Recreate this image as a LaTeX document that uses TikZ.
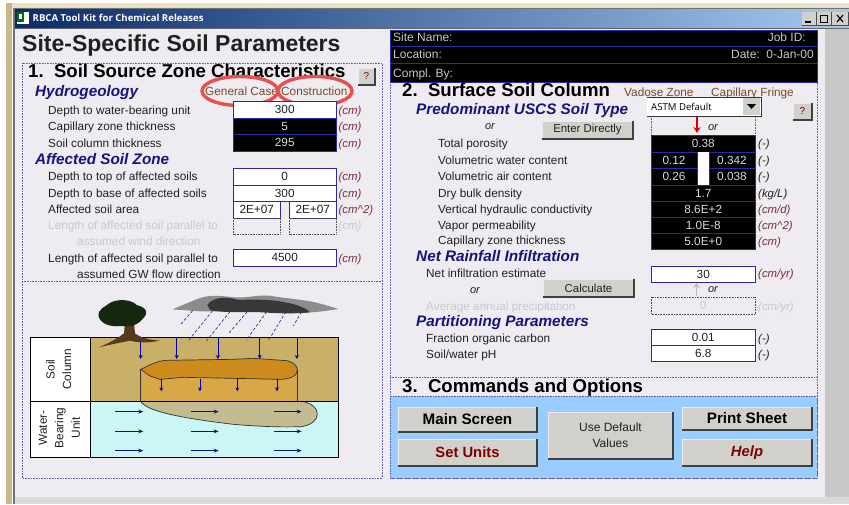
\documentclass[tikz,border=0pt]{standalone}
\usepackage{fontspec}
\setmainfont{Liberation Sans}
\newfontfamily\tbfont{Open Sans}
\definecolor{winbg}{HTML}{EEECF0}
\definecolor{navy}{HTML}{14147E}
\definecolor{fieldblue}{HTML}{2A2AA8}
\definecolor{unitred}{HTML}{7E2A3A}
\definecolor{greyed}{HTML}{C9C8CC}
\definecolor{txt}{HTML}{202020}
\definecolor{brn}{HTML}{7A4A2A}
\definecolor{btn}{HTML}{D2D0CB}
\definecolor{dotc}{HTML}{6060B0}
\definecolor{panel}{HTML}{99CCFF}
\definecolor{soilc}{HTML}{C8B068}
\definecolor{waterc}{HTML}{CCF5F5}
\definecolor{colc}{HTML}{D8A848}
\definecolor{lensc}{HTML}{CC8C1C}
\definecolor{plumec}{HTML}{C2BC90}
\definecolor{barl}{HTML}{0A2A6A}
\definecolor{barr}{HTML}{A6C8EE}
\definecolor{creamtop}{HTML}{EAE2C4}
\definecolor{creamleft}{HTML}{C8B888}
\definecolor{ringc}{HTML}{E85050}
\definecolor{treec}{HTML}{16280E}
\newcommand{\fs}[1]{\fontsize{#1}{#1}\selectfont}
\tikzset{
  lbl/.style={anchor=base west,yshift=-4pt,inner sep=0pt,text=txt,font=\fs{11.8}},
  glbl/.style={lbl,text=greyed},
  hd/.style={anchor=base west,yshift=-5.5pt,inner sep=0pt,text=navy,font=\fs{15.3}\bfseries\itshape},
  sect/.style={anchor=base west,yshift=-6.5pt,inner sep=0pt,text=black,font=\fs{18.6}\bfseries},
  unit/.style={anchor=base west,yshift=-4pt,inner sep=0pt,text=unitred,font=\fs{11.4}\itshape},
  gunit/.style={unit,text=greyed},
  dunit/.style={unit,text=txt},
  orw/.style={anchor=base,yshift=-3pt,inner sep=0pt,text=txt,font=\fs{11}\itshape},
  zone/.style={anchor=base west,yshift=-4pt,inner sep=0pt,text=brn,font=\fs{11.8}},
  white field/.style={draw=fieldblue,line width=.9pt,fill=white},
  black field/.style={draw=fieldblue,line width=.9pt,fill=black},
  dis field/.style={draw=black!70,densely dotted,line width=.6pt},
  val/.style={inner sep=0pt,text=txt,font=\fs{11.8},text height=8.4pt,text depth=0pt},
  wval/.style={val,text=white!85!black},
  gval/.style={val,text=greyed},
  dotbox/.style={draw=dotc,densely dotted,line width=.6pt},
  hdr/.style={anchor=base west,yshift=-4pt,inner sep=0pt,text=white!78!black,font=\fs{12}},
  soilarrow/.style={-{Stealth[length=4pt,width=4pt]},draw=blue!70!black,line width=.7pt},
  waterarrow/.style={-{Stealth[length=5pt,width=4pt]},draw=navy!90!black,line width=.8pt},
  rain/.style={draw=blue!55!black!80,densely dashed,line width=.7pt},
  ring/.style={draw=ringc,line width=3.4pt},
  diaglbl/.style={inner sep=0pt,text=txt,font=\fs{11.8}}
}
\newcommand{\pbtn}[7]{%
  \fill[btn] (#2,#3) rectangle (#4,#5);
  \draw[white!60!btn,line width=.8pt] (#2,#5) -- (#2,#3) -- (#4,#3);
  \draw[black!75,line width=1.2pt] (#2,#5) -- (#4,#5) -- (#4,#3);
  \node[inner sep=0pt,align=center,#7] (#1) at ({(#2+#4)/2},{(#3+#5)/2}) {#6};
}
\usetikzlibrary{arrows.meta}
\begin{document}
\begin{tikzpicture}[x=1pt,y=-1pt]
\useasboundingbox (0,0) rectangle (849,504);
\fill[white] (0,0) rectangle (849,504);
% window frame
\fill[winbg] (14,28) rectangle (825,497);
\fill[black!22] (825,28) rectangle (849,498);
\fill[black!15] (14,497) rectangle (849,504);
\fill[creamtop] (7,3) rectangle (849,8);
\draw[black!55,line width=1pt] (14,8.5) -- (849,8.5);
\fill[creamleft] (6,3) rectangle (12,504);
\fill[black!55] (12.5,8) rectangle (15,504);
% title bar
\shade[left color=barl,right color=barr] (15,9) rectangle (849,27.5);
\draw[black!60,line width=.8pt] (15,28) -- (849,28);
\fill[white] (17,11.5) rectangle (29,24);
\fill[green!45!black] (17,11.5) rectangle (24,22);
\fill[white] (19,14) rectangle (22,19);
\node[anchor=west,inner sep=0pt,text=white,font=\fs{9.6}\tbfont\bfseries] (wintitle) at (32.5,18) {RBCA Tool Kit for Chemical Releases};
% window buttons
\foreach \xa/\xb in {802/816,817/831,832/848}{\fill[btn] (\xa,12) rectangle (\xb,25);\draw[black!70] (\xa,25) -- (\xb,25) -- (\xb,12);}
\draw[black,line width=1.2pt] (805,22) -- (811,22);
\draw[black,line width=1pt] (820.5,15) rectangle (827.5,22);
\draw[black,line width=1.2pt] (837,15) -- (843,22) (843,15) -- (837,22);
% title
\node[anchor=west,inner sep=0pt,text=txt,font=\fs{23}\bfseries] (maintitle) at (22,46) {Site-Specific Soil Parameters};
% dotted section boxes
\draw[dotbox] (22,63) rectangle (382,478);
\draw[dotbox] (22,281.5) -- (382,281.5);
\draw[dotbox] (390,82) rectangle (817,478);
\draw[dotbox] (390,377) -- (817,377);
% header block
\fill[black] (390,30) rectangle (817,82);
\draw[fieldblue,line width=.8pt] (390,30) rectangle (817,82);
\draw[fieldblue,line width=.8pt] (390,46.5) -- (817,46.5) (390,63) -- (817,63);
\node[hdr] (site) at (393,37) {Site Name:};
\node[hdr] (loc) at (393,54) {Location:};
\node[hdr] (compl) at (393,73) {Compl. By:};
\node[hdr,anchor=base east] (job) at (806,37) {Job ID:};
\node[hdr,anchor=base east] (date) at (814,54) {Date:\ \ 0-Jan-00};
% section 1
\node[sect] (s1) at (28,71) {1.\ \ Soil Source Zone Characteristics};
\pbtn{qa}{358}{68}{375}{85}{?}{text=red!50!black,font=\fs{10}}
\node[hd] (hydro) at (35,91) {Hydrogeology};
\node[zone] (gc) at (205,91.5) {General Case};
\node[zone] (con) at (281,91.5) {Construction};
\draw[ring] (240,91) ellipse (38 and 14.5);
\draw[ring] (315,91) ellipse (37 and 14.5);
\node[lbl] (l1) at (48,110) {Depth to water-bearing unit};
\node[lbl] (l2) at (48,126.5) {Capillary zone thickness};
\node[lbl] (l3) at (48,143) {Soil column thickness};
\node[hd] (aff) at (35,159) {Affected Soil Zone};
\node[lbl] (l4) at (48,176.5) {Depth to top of affected soils};
\node[lbl] (l5) at (48,193) {Depth to base of affected soils};
\node[lbl] (l6) at (48,209.5) {Affected soil area};
\node[glbl] (l7) at (48,225.5) {Length of affected soil parallel to};
\node[glbl] (l8) at (77,241.5) {assumed wind direction};
\node[lbl] (l9) at (48,258) {Length of affected soil parallel to};
\node[lbl] (l10) at (77,274) {assumed GW flow direction};
\draw[white field] (233.5,101) rectangle node[val] (f1) {300} (336,118);
\draw[black field] (233.5,118) rectangle node[wval] (f2) {5} (336,134.5);
\draw[black field] (233.5,134.5) rectangle node[wval] (f3) {295} (336,151);
\draw[white field] (233.5,168) rectangle node[val] (f4) {0} (336,185);
\draw[white field] (233.5,185) rectangle node[val] (f5) {300} (336,201.5);
\draw[white field] (233.5,201.5) rectangle node[val] (f6) {2E+07} (280,218);
\draw[white field] (289.5,201.5) rectangle node[val] (f7) {2E+07} (336,218);
\draw[dis field] (233.5,218) rectangle (280,234);
\draw[dis field] (289.5,218) rectangle (336,234);
\draw[white field] (233.5,249) rectangle node[val] (f8) {4500} (336,266);
\foreach \n/\y in {u1/110,u2/126.5,u3/143,u4/176.5,u5/193,u9/258}{\node[unit] (\n) at (338.5,\y) {(cm)};}
\node[unit] (u6) at (338.5,209.5) {(cm\^{}2)};
\node[gunit] (u7) at (338.5,225.5) {(cm)};
% diagram
\begin{scope}[shift={(0,270)},x=.3333pt,y=-.3333pt]
  \fill[white] (92,203) rectangle (272,562);
  \fill[soilc] (272,203) rectangle (1016,394);
  \fill[waterc] (272,394) rectangle (1016,562);
  \fill[colc] (422,298) rectangle (892,394);
  \draw[black!80,line width=.7pt] (422,298) -- (422,394) (892,298) -- (892,394);
  \fill[lensc] (422,298) .. controls (445,288) and (470,272) .. (500,271) -- (700,268) -- (760,265) -- (860,272) .. controls (885,278) and (892,290) .. (892,300) .. controls (892,318) and (870,328) .. (840,328) -- (700,325) -- (550,322) -- (480,328) -- (450,318) -- cycle;
  \draw[black!80,line width=.7pt] (422,298) .. controls (445,288) and (470,272) .. (500,271) -- (700,268) -- (760,265) -- (860,272) .. controls (885,278) and (892,290) .. (892,300) .. controls (892,318) and (870,328) .. (840,328) -- (700,325) -- (550,322) -- (480,328) -- (450,318) -- cycle;
  \fill[plumec] (422,394) .. controls (440,425) and (550,445) .. (700,463) .. controls (780,470) and (850,472) .. (905,470) .. controls (935,465) and (952,450) .. (952,432) .. controls (952,412) and (935,400) .. (905,394) -- cycle;
  \draw[black!80,line width=.7pt] (422,394) .. controls (440,425) and (550,445) .. (700,463) .. controls (780,470) and (850,472) .. (905,470) .. controls (935,465) and (952,450) .. (952,432) .. controls (952,412) and (935,400) .. (905,394);
  \draw[black,line width=.8pt] (92,203) rectangle (1016,562);
  \draw[black,line width=.8pt] (92,394) -- (1016,394) (272,203) -- (272,562);
  \foreach \x in {422,530,654,779,891}{\draw[soilarrow] (\x,204) -- (\x,267);}
  \foreach \x in {484,600,712,831}{\draw[soilarrow] (\x,326) -- (\x,364);}
  \foreach \y in {425,484,542}{
    \draw[waterarrow] (345,\y) -- (430,\y);
    \draw[waterarrow] (572,\y) -- (656,\y);
    \draw[waterarrow] (822,\y) -- (905,\y);
  }
  % tree
  \fill[brown!45!black] (375,160) -- (372,190) .. controls (350,208) and (320,222) .. (296,232) .. controls (330,224) and (360,218) .. (390,212) .. controls (420,220) and (450,218) .. (480,212) .. controls (450,210) and (425,205) .. (405,190) -- (402,160) -- cycle;
  \fill[treec] (296,140) .. controls (292,115) and (318,110) .. (328,100) .. controls (350,85) and (395,88) .. (410,105) .. controls (435,112) and (452,125) .. (425,150) .. controls (405,172) and (380,170) .. (360,168) .. controls (335,172) and (302,162) .. (296,140) -- cycle;
  % cloud
  \fill[black!45] (518,118) .. controls (540,108) and (560,100) .. (590,88) .. controls (620,75) and (650,75) .. (700,82) .. controls (740,85) and (770,74) .. (810,77) .. controls (850,85) and (900,87) .. (950,98) .. controls (980,106) and (1000,112) .. (1016,117) .. controls (980,122) and (950,128) .. (900,128) -- (700,124) -- (600,124) -- cycle;
  \fill[black!78] (622,105) .. controls (635,82) and (680,78) .. (715,90) .. controls (760,88) and (820,88) .. (860,98) .. controls (890,103) and (920,115) .. (930,127) .. controls (880,132) and (830,130) .. (770,126) .. controls (720,126) and (660,128) .. (630,120) -- cycle;
  \draw[rain] (578,122) -- (543,162);
  \draw[rain] (638,122) -- (565,212);
  \draw[rain] (690,125) -- (620,212);
  \draw[rain] (742,125) -- (688,188);
  \draw[rain] (800,125) -- (738,212);
  \draw[rain] (858,125) -- (805,212);
  \draw[rain] (905,125) -- (880,168);
  \node[diaglbl] (soilcol) at (176,298) {\rotatebox{90}{\parbox{56pt}{\centering\fontsize{11.8}{16.5}\selectfont Soil\\Column}}};
  \node[diaglbl] (wbu) at (178,474) {\rotatebox{90}{\parbox{56pt}{\centering\fontsize{11.8}{16.5}\selectfont Water-\\Bearing\\Unit}}};
\end{scope}
% section 2
\node[sect] (s2) at (402,89.5) {2.\ \ Surface Soil Column};
\node[zone] (vz) at (624,92) {Vadose Zone};
\node[zone] (cf) at (711,92) {Capillary Fringe};
\node[hd] (uscs) at (416,108.5) {Predominant USCS Soil Type};
\draw[dotbox] (651,116) rectangle (755.5,135);
\fill[white] (647,97) rectangle (761,116);
\draw[black!80,line width=1pt] (647,116) -- (761,116) -- (761,97) -- (647,97);
\fill[btn] (743,98) rectangle (760,115);
\fill[black] (747,104) -- (756,104) -- (751.5,109) -- cycle;
\node[anchor=west,inner sep=0pt,text=black,font=\fs{9.6}\tbfont] (astm) at (651,107) {ASTM Default};
\pbtn{qb}{793}{103}{812}{120}{?}{text=red!50!black,font=\fs{10}}
\draw[-{Stealth[length=6pt,width=7pt]},red!85!black,line width=1.4pt] (697,117) -- (697,133);
\node[orw] (or1) at (713,127) {or};
\node[orw] (or2) at (490,126.5) {or};
\pbtn{ed}{542}{121}{633}{139}{Enter Directly}{text=txt,font=\fs{11.4}}
\foreach \n/\y/\t in {r1/143/Total porosity,r2/160/Volumetric water content,r3/176.5/Volumetric air content,r4/193/Dry bulk density,r5/209.5/Vertical hydraulic conductivity,r6/225.5/Vapor permeability,r7/240.5/Capillary zone thickness}{\node[lbl] (\n) at (438,\y) {\t};}
\draw[black field] (651,135) rectangle node[wval] (g1) {0.38} (755.5,152);
\draw[black field] (651,152) rectangle (697,168.5);
\draw[black field] (709,152) rectangle (755.5,168.5);
\draw[black field] (651,168.5) rectangle (697,185);
\draw[black field] (709,168.5) rectangle (755.5,185);
\fill[white] (697.5,152) rectangle (708.5,185);
\node[wval] (g2) at (674,160.5) {0.12};
\node[wval] (g3) at (732,160.5) {0.342};
\node[wval] (g4) at (674,176.5) {0.26};
\node[wval] (g5) at (732,176.5) {0.038};
\draw[black field] (651,185) rectangle node[wval] (g6) {1.7} (755.5,201);
\draw[black field] (651,201) rectangle node[wval] (g7) {8.6E+2} (755.5,217);
\draw[black field] (651,217) rectangle node[wval] (g8) {1.0E-8} (755.5,233);
\draw[black field] (651,233) rectangle node[wval] (g9) {5.0E+0} (755.5,249);
\node[dunit] (v1) at (758,143.5) {(-)};
\node[dunit] (v2) at (758,160.5) {(-)};
\node[dunit] (v3) at (758,176.5) {(-)};
\node[dunit] (v4) at (758,193) {(kg/L)};
\node[unit] (v5) at (758,209.5) {(cm/d)};
\node[unit] (v6) at (758,225) {(cm\^{}2)};
\node[unit] (v7) at (758,241) {(cm)};
\node[hd] (net) at (416,256) {Net Rainfall Infiltration};
\node[lbl] (n1) at (426,273) {Net infiltration estimate};
\node[orw] (or3) at (475,290) {or};
\pbtn{calc}{543}{279}{634}{297}{Calculate}{text=txt,font=\fs{11.4}}
\draw[white field] (651,266) rectangle node[val] (h1) {30} (755.5,282);
\node[unit] (h1u) at (758,273.5) {(cm/yr)};
\draw[-{Stealth[length=5pt,width=7pt]},red!10!black!28!white,line width=1.6pt] (696.5,296) -- (696.5,283);
\node[orw] (or4) at (713,289.5) {or};
\node[glbl] (n2) at (426,306) {Average annual precipitation};
\draw[dis field] (651,297) rectangle node[gval] (h2) {0} (755.5,314);
\node[gunit] (h2u) at (758,306) {(cm/yr)};
\node[hd] (part) at (416,321) {Partitioning Parameters};
\node[lbl] (p1) at (426,338) {Fraction organic carbon};
\node[lbl] (p2) at (426,354.5) {Soil/water pH};
\draw[white field] (651,329) rectangle node[val] (i1) {0.01} (755.5,345);
\draw[white field] (651,345) rectangle node[val] (i2) {6.8} (755.5,361.5);
\node[dunit] (i1u) at (758,338) {(-)};
\node[dunit] (i2u) at (758,354.5) {(-)};
% section 3
\node[sect] (s3) at (402,386) {3.\ \ Commands and Options};
\fill[panel] (390,396) rectangle (817,478);
\draw[dotbox] (390,396) rectangle (817,478);
\pbtn{main}{398}{407}{537}{432}{Main Screen}{text=black,font=\fs{15.2}\bfseries}
\pbtn{setu}{398}{439}{537}{466}{Set Units}{text=red!50!black,font=\fs{14.8}\bfseries}
\pbtn{defv}{548}{412}{673}{459}{Use Default\\[4pt]Values}{text=txt,font=\fs{12}}
\pbtn{prn}{682}{407}{812}{430}{Print Sheet}{text=black,font=\fs{15.2}\bfseries}
\pbtn{hlp}{682}{439}{812}{466}{Help}{text=red!50!black,font=\fs{14.8}\bfseries\itshape}
\end{tikzpicture}
\end{document}
